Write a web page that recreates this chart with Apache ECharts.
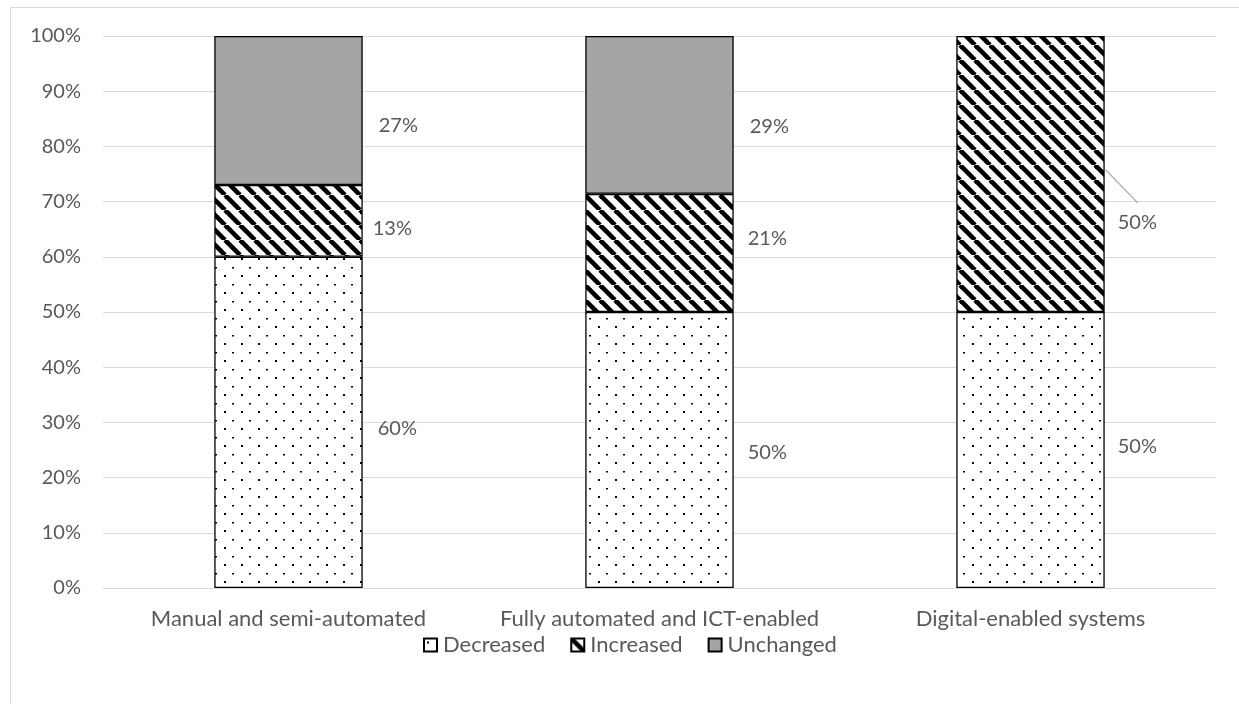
<!DOCTYPE html>
<html>
<head>
<meta charset="utf-8">
<script src="https://cdn.jsdelivr.net/npm/echarts@6/dist/echarts.min.js"></script>
<style>
  html, body { margin: 0; padding: 0; background: #fff; }
  #chart { width: 1239px; height: 704px; }
</style>
</head>
<body>
<div id="chart"></div>
<script>
// ---- data ----
const categories = ['Manual and semi-automated', 'Fully automated and ICT-enabled', 'Digital-enabled systems'];
const seriesNames = ['Decreased', 'Increased', 'Unchanged'];
const decreased = [60, 50, 50];
const increased = [13, 21.4, 50];
const unchanged = [27, 28.6, 0];
const yTicks = [0, 10, 20, 30, 40, 50, 60, 70, 80, 90, 100];

// ---- patterns ----
function dotPattern() {
  const c = document.createElement('canvas');
  c.width = 17; c.height = 17;
  const g = c.getContext('2d');
  g.fillStyle = '#fff'; g.fillRect(0, 0, 17, 17);
  g.fillStyle = '#000';
  g.fillRect(3, 3, 2, 2);
  g.fillRect(11, 12, 2, 1.5);
  return c;
}
function stripePattern() {
  const P = 15;
  const c = document.createElement('canvas');
  c.width = P; c.height = P;
  const g = c.getContext('2d');
  g.fillStyle = '#fff'; g.fillRect(0, 0, P, P);
  g.strokeStyle = '#000'; g.lineWidth = 4.6;
  [-P, 0, P].forEach(k => { g.beginPath(); g.moveTo(k, 0); g.lineTo(k + P, P); g.stroke(); });
  return c;
}
const fills = [
  { image: dotPattern(), repeat: 'repeat' },
  { image: stripePattern(), repeat: 'repeat' },
  '#A5A5A5'
];

// label shifts (layout only)
const labelShift = [
  [[15, 6], [14, 3], [13, -3]],
  [[10, 8], [14, -14], [13, 49]],
  [[16, 15.5], [16, 12], [0, 0]]
];

const FONT = 'Lato, "Open Sans", sans-serif';
const TXT = '#595959';
const BAR_W = 0.4;

const seriesValues = [decreased, increased, unchanged];
const series = seriesNames.map((name, si) => ({
  name,
  type: 'bar',
  stack: 'total',
  barWidth: (BAR_W * 100) + '%',
  itemStyle: { color: fills[si], borderColor: '#000', borderWidth: 1.3 },
  label: {
    show: true,
    position: 'right',
    distance: 0,
    color: TXT,
    fontFamily: FONT,
    fontSize: 20,
    formatter: p => (p.value ? Math.round(p.value) + '%' : '')
  },
  labelLayout: p => ({ dx: labelShift[si][p.dataIndex][0], dy: labelShift[si][p.dataIndex][1] }),
  emphasis: { disabled: true },
  data: seriesValues[si].map(v => {
    const item = { value: v };
    if (v === 0) { item.itemStyle = { borderWidth: 0 }; item.label = { show: false }; }
    return item;
  })
}));

const chart = echarts.init(document.getElementById('chart'), null, { renderer: 'canvas' });
chart.setOption({
  animation: false,
  backgroundColor: '#fff',
  grid: { left: 103, right: 23, top: 36, bottom: 116, containLabel: false },
  legend: {
    data: seriesNames,
    left: 418,
    top: 629,
    itemWidth: 13,
    itemHeight: 13,
    itemGap: 25,
    icon: 'rect',
    textStyle: { color: TXT, fontFamily: FONT, fontSize: 22, padding: [0, 0, 0, 1] }
  },
  xAxis: {
    type: 'category',
    data: categories,
    axisLine: { lineStyle: { color: '#D9D9D9', width: 1 } },
    axisTick: { show: false },
    axisLabel: { color: TXT, fontFamily: FONT, fontSize: 22, margin: 20, interval: 0 }
  },
  yAxis: {
    type: 'value',
    min: yTicks[0],
    max: yTicks[yTicks.length - 1],
    interval: yTicks[1] - yTicks[0],
    axisLine: { show: false },
    axisTick: { show: false },
    splitLine: { lineStyle: { color: '#D9D9D9', width: 1 } },
    axisLabel: { color: TXT, fontFamily: FONT, fontSize: 20, margin: 22, formatter: '{value}%' }
  },
  series
});

// frame + leader line for the moved label, positioned through the chart's scales
const p0 = chart.convertToPixel({ seriesIndex: 0 }, [0, 0]);
const p1 = chart.convertToPixel({ seriesIndex: 0 }, [1, 0]);
const band = p1[0] - p0[0];
const ci = 2;
const leaderValue = decreased[ci] + increased[ci] * 0.515;
const start = chart.convertToPixel({ seriesIndex: 1 }, [ci, leaderValue]);
const edgeX = start[0] + band * BAR_W / 2 + 1;
chart.setOption({
  graphic: [
    {
      type: 'rect',
      shape: { x: 10.5, y: 7.5, width: 1400, height: 900 },
      style: { fill: 'none', stroke: '#D9D9D9', lineWidth: 1 },
      silent: true, z: -1
    },
    {
      type: 'line',
      shape: { x1: edgeX, y1: start[1], x2: edgeX + 32, y2: start[1] + 33 },
      style: { stroke: '#A6A6A6', lineWidth: 1.3 },
      silent: true
    }
  ]
});
</script>
</body>
</html>
